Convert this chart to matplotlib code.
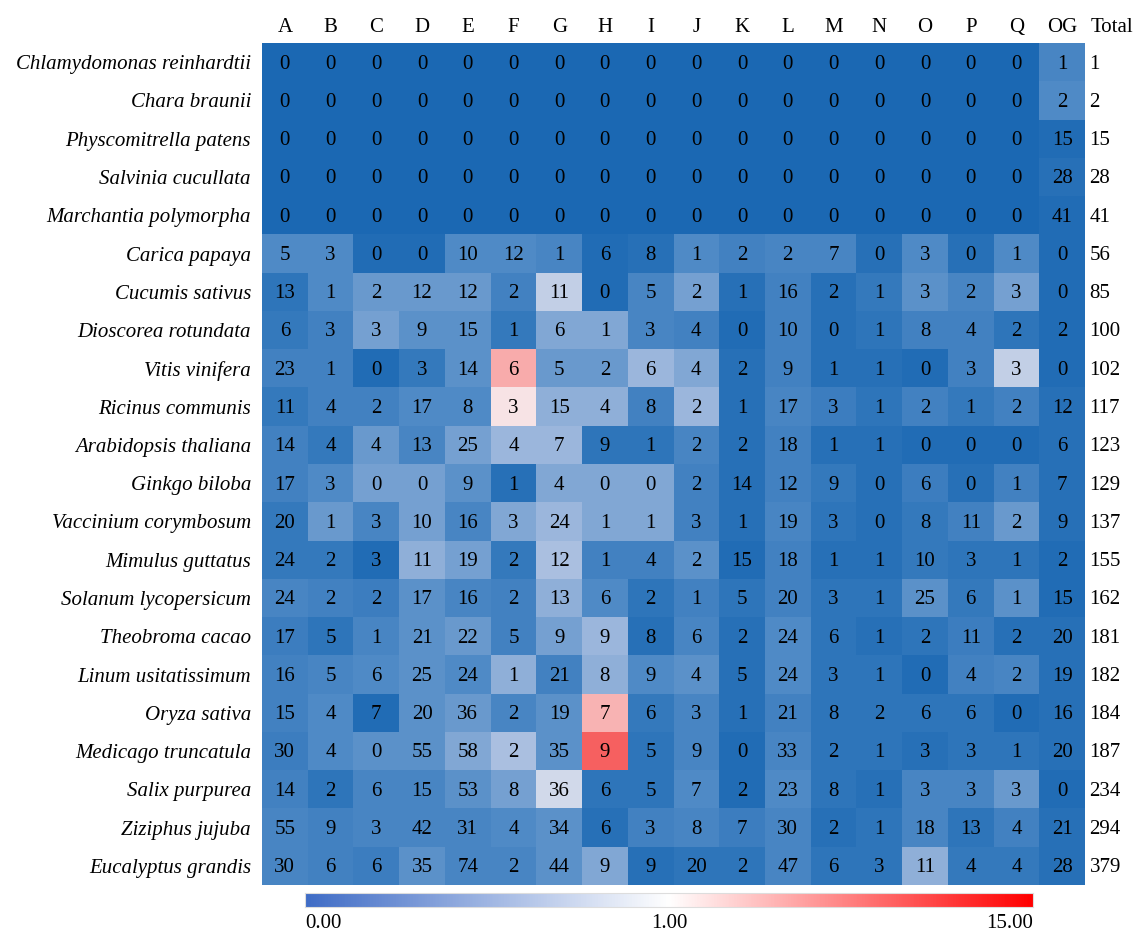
import numpy as np
import matplotlib
matplotlib.use("Agg")
import matplotlib.pyplot as plt
from matplotlib.colors import LinearSegmentedColormap, TwoSlopeNorm
from matplotlib.transforms import offset_copy

species = ["Chlamydomonas reinhardtii", "Chara braunii", "Physcomitrella patens",
           "Salvinia cucullata", "Marchantia polymorpha", "Carica papaya",
           "Cucumis sativus", "Dioscorea rotundata", "Vitis vinifera",
           "Ricinus communis", "Arabidopsis thaliana", "Ginkgo biloba",
           "Vaccinium corymbosum", "Mimulus guttatus", "Solanum lycopersicum",
           "Theobroma cacao", "Linum usitatissimum", "Oryza sativa",
           "Medicago truncatula", "Salix purpurea", "Ziziphus jujuba",
           "Eucalyptus grandis"]
columns = ["A", "B", "C", "D", "E", "F", "G", "H", "I", "J", "K", "L", "M",
           "N", "O", "P", "Q", "OG"]
totals = [1, 2, 15, 28, 41, 56, 85, 100, 102, 117, 123, 129, 137, 155, 162,
          181, 182, 184, 187, 234, 294, 379]

counts = [
    [0, 0, 0, 0, 0, 0, 0, 0, 0, 0, 0, 0, 0, 0, 0, 0, 0, 1],
    [0, 0, 0, 0, 0, 0, 0, 0, 0, 0, 0, 0, 0, 0, 0, 0, 0, 2],
    [0, 0, 0, 0, 0, 0, 0, 0, 0, 0, 0, 0, 0, 0, 0, 0, 0, 15],
    [0, 0, 0, 0, 0, 0, 0, 0, 0, 0, 0, 0, 0, 0, 0, 0, 0, 28],
    [0, 0, 0, 0, 0, 0, 0, 0, 0, 0, 0, 0, 0, 0, 0, 0, 0, 41],
    [5, 3, 0, 0, 10, 12, 1, 6, 8, 1, 2, 2, 7, 0, 3, 0, 1, 0],
    [13, 1, 2, 12, 12, 2, 11, 0, 5, 2, 1, 16, 2, 1, 3, 2, 3, 0],
    [6, 3, 3, 9, 15, 1, 6, 1, 3, 4, 0, 10, 0, 1, 8, 4, 2, 2],
    [23, 1, 0, 3, 14, 6, 5, 2, 6, 4, 2, 9, 1, 1, 0, 3, 3, 0],
    [11, 4, 2, 17, 8, 3, 15, 4, 8, 2, 1, 17, 3, 1, 2, 1, 2, 12],
    [14, 4, 4, 13, 25, 4, 7, 9, 1, 2, 2, 18, 1, 1, 0, 0, 0, 6],
    [17, 3, 0, 0, 9, 1, 4, 0, 0, 2, 14, 12, 9, 0, 6, 0, 1, 7],
    [20, 1, 3, 10, 16, 3, 24, 1, 1, 3, 1, 19, 3, 0, 8, 11, 2, 9],
    [24, 2, 3, 11, 19, 2, 12, 1, 4, 2, 15, 18, 1, 1, 10, 3, 1, 2],
    [24, 2, 2, 17, 16, 2, 13, 6, 2, 1, 5, 20, 3, 1, 25, 6, 1, 15],
    [17, 5, 1, 21, 22, 5, 9, 9, 8, 6, 2, 24, 6, 1, 2, 11, 2, 20],
    [16, 5, 6, 25, 24, 1, 21, 8, 9, 4, 5, 24, 3, 1, 0, 4, 2, 19],
    [15, 4, 7, 20, 36, 2, 19, 7, 6, 3, 1, 21, 8, 2, 6, 6, 0, 16],
    [30, 4, 0, 55, 58, 2, 35, 9, 5, 9, 0, 33, 2, 1, 3, 3, 1, 20],
    [14, 2, 6, 15, 53, 8, 36, 6, 5, 7, 2, 23, 8, 1, 3, 3, 3, 0],
    [55, 9, 3, 42, 31, 4, 34, 6, 3, 8, 7, 30, 2, 1, 18, 13, 4, 21],
    [30, 6, 6, 35, 74, 2, 44, 9, 9, 20, 2, 47, 6, 3, 11, 4, 4, 28],
]

# colour scores (0..1 blue side, 1..15 red side)
scores = [
    [0, 0, 0, 0, 0, 0, 0, 0, 0, 0, 0, 0, 0, 0, 0, 0, 0, .35],
    [0, 0, 0, 0, 0, 0, 0, 0, 0, 0, 0, 0, 0, 0, 0, 0, 0, .4],
    [0, 0, 0, 0, 0, 0, 0, 0, 0, 0, 0, 0, 0, 0, 0, 0, 0, .05],
    [0, 0, 0, 0, 0, 0, 0, 0, 0, 0, 0, 0, 0, 0, 0, 0, 0, .1],
    [0, 0, 0, 0, 0, 0, 0, 0, 0, 0, 0, 0, 0, 0, 0, 0, 0, .05],
    [.4, .4, .05, .05, .4, .4, .35, .05, .1, .4, .3, .35, .35, .1, .4, .1, .4, .05],
    [.15, .4, .5, .5, .5, .3, .85, .05, .35, .55, .1, .3, .1, .2, .45, .35, .55, .05],
    [.2, .3, .55, .45, .45, .2, .6, .6, .35, .3, .05, .3, .1, .15, .3, .3, .15, .05],
    [.3, .3, .05, .2, .45, 5, .5, .5, .7, .6, .1, .3, .1, .1, .05, .3, .85, .05],
    [.2, .3, .3, .4, .4, 1.8, .65, .65, .3, .7, .1, .35, .25, .15, .3, .2, .3, .1],
    [.3, .2, .5, .35, .55, .7, .7, .15, .15, .35, .1, .3, .1, .1, .05, .05, .05, .1],
    [.3, .4, .55, .55, .45, .1, .6, .6, .6, .3, .1, .3, .2, .1, .25, .1, .3, .1],
    [.2, .5, .35, .55, .35, .6, .7, .6, .6, .3, .1, .35, .15, .1, .2, .3, .5, .1],
    [.2, .2, .05, .65, .55, .2, .75, .3, .3, .45, .05, .3, .1, .1, .2, .15, .15, .05],
    [.35, .3, .25, .45, .35, .3, .65, .4, .15, .3, .15, .3, .15, .15, .45, .2, .45, .05],
    [.25, .15, .35, .45, .5, .3, .55, .7, .1, .35, .1, .4, .15, .1, .15, .25, .1, .1],
    [.3, .35, .4, .45, .4, .65, .3, .65, .4, .45, .1, .4, .15, .15, .05, .3, .35, .1],
    [.3, .4, .05, .45, .5, .35, .45, 4.5, .2, .35, .1, .3, .15, .15, .15, .15, .05, .1],
    [.25, .4, .45, .45, .6, .75, .45, 11, .15, .35, .05, .35, .15, .15, .1, .15, .15, .1],
    [.3, .15, .35, .35, .45, .55, .9, .15, .15, .4, .05, .4, .15, .1, .35, .35, .5, .05],
    [.35, .3, .35, .35, .35, .4, .45, .1, .3, .35, .25, .35, .1, .15, .35, .15, .3, .1],
    [.35, .3, .25, .45, .35, .35, .45, .6, .1, .15, .15, .35, .15, .15, .65, .2, .2, .1],
]

plt.rcParams['font.family'] = ['Liberation Serif', 'DejaVu Serif']
FS = 15

W, H = 1142, 935
fig = plt.figure(figsize=(W / 100, H / 100), dpi=100)

cell_cmap = LinearSegmentedColormap.from_list("cells", [
    (0.0, "#1b68b3"), (0.2, "#4f8ac6"), (0.35, "#9cb6dc"), (0.45, "#d0d8ea"),
    (0.5, "#f7f2f4"), (0.65, "#f8a8a8"), (1.0, "#f53030")])
norm = TwoSlopeNorm(vmin=0, vcenter=1, vmax=15)

x0, x1, y0, y1 = 262, 1085, 43, 885
ax = fig.add_axes([x0 / W, 1 - y1 / H, (x1 - x0) / W, (y1 - y0) / H])
data = np.array(scores)
ax.pcolormesh(data, cmap=cell_cmap, norm=norm)
ax.set_xlim(0, len(columns))
ax.set_ylim(len(species), 0)
for i, row in enumerate(counts):
    for j, v in enumerate(row):
        ax.text(j + 0.5, i + 0.55, str(v), ha="center", va="center", fontsize=FS)
    ax.text(len(columns) + 0.1, i + 0.55, str(totals[i]), ha="left", va="center",
            fontsize=FS, clip_on=False)

ax.set_xticks(np.arange(len(columns)) + 0.5)
ax.set_xticklabels(columns, fontsize=FS)
ax.xaxis.tick_top()
ax.tick_params(axis="x", length=0, pad=4)
ax.tick_params(axis="y", length=0, pad=8)
ax.text(len(columns) + 0.12, 0, "Total", ha="left", va="bottom", fontsize=FS,
        transform=offset_copy(ax.transData, fig=fig, y=4, units="points"),
        clip_on=False)
ax.set_yticks(np.arange(len(species)) + 0.5)
ax.set_yticklabels(species, fontsize=FS, style="italic")
for s in ax.spines.values():
    s.set_visible(False)

# colour bar
bar_cmap = LinearSegmentedColormap.from_list("bar", ["#3f6cc6", "#ffffff", "#ff0000"])
cx0, cx1, cy0, cy1 = 305, 1033, 893, 907
cax = fig.add_axes([cx0 / W, 1 - cy1 / H, (cx1 - cx0) / W, (cy1 - cy0) / H])
cax.imshow(np.linspace(0, 1, 512)[None, :], aspect="auto", cmap=bar_cmap,
           extent=[0, 1, 0, 1])
cax.set_xticks([])
cax.set_yticks([])
for s in cax.spines.values():
    s.set_color("#dddddd")
    s.set_linewidth(0.8)
fig.text(cx0 / W, 1 - 923 / H, "0.00", ha="left", va="center", fontsize=FS)
fig.text((cx0 + cx1) / 2 / W, 1 - 923 / H, "1.00", ha="center", va="center", fontsize=FS)
fig.text(cx1 / W, 1 - 923 / H, "15.00", ha="right", va="center", fontsize=FS)

fig.savefig("out.png", dpi=100)
